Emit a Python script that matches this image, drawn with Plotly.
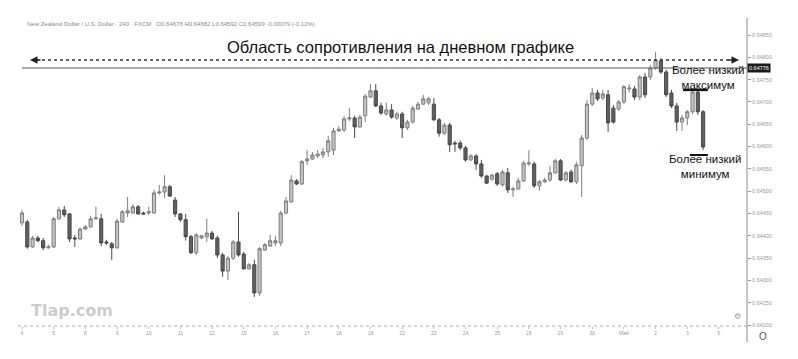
import plotly.graph_objects as go

# ---------------- data ----------------
day_labels = ["4", "5", "8", "9", "10", "11", "12", "15", "16", "17", "18", "19",
              "22", "23", "24", "25", "26", "29", "30", "Май", "2", "3", "6"]

open_ = [0.64429, 0.64431, 0.64375, 0.64395, 0.64389, 0.64373, 0.64375, 0.64438, 0.64458, 0.64449,
         0.64395, 0.64393, 0.64415, 0.64420, 0.64438, 0.64438, 0.64386, 0.64382, 0.64373, 0.64431,
         0.64451, 0.64451, 0.64465, 0.64451, 0.64451, 0.64451, 0.64496, 0.64498, 0.64510, 0.64480,
         0.64449, 0.64436, 0.64398, 0.64362, 0.64395, 0.64398, 0.64406, 0.64395, 0.64357, 0.64321,
         0.64350, 0.64386, 0.64359, 0.64326, 0.64335, 0.64272, 0.64368, 0.64377, 0.64384, 0.64384,
         0.64451, 0.64476, 0.64523, 0.64516, 0.64568, 0.64572, 0.64579, 0.64581, 0.64588, 0.64592,
         0.64635, 0.64637, 0.64662, 0.64664, 0.64644, 0.64669, 0.64711, 0.64725, 0.64691, 0.64673,
         0.64682, 0.64664, 0.64673, 0.64642, 0.64655, 0.64684, 0.64695, 0.64698, 0.64695, 0.64660,
         0.64630, 0.64648, 0.64608, 0.64608, 0.64597, 0.64570, 0.64579, 0.64561, 0.64534, 0.64527,
         0.64539, 0.64514, 0.64541, 0.64503, 0.64505, 0.64523, 0.64561, 0.64561, 0.64512, 0.64521,
         0.64525, 0.64541, 0.64568, 0.64525, 0.64543, 0.64521, 0.64557, 0.64619, 0.64695, 0.64720,
         0.64709, 0.64716, 0.64686, 0.64684, 0.64700, 0.64729, 0.64729, 0.64711, 0.64756, 0.64756,
         0.64776, 0.64792, 0.64767, 0.64720, 0.64691, 0.64655, 0.64664, 0.64678, 0.64722, 0.64678]

high = [0.64458, 0.64436, 0.64400, 0.64400, 0.64395, 0.64380, 0.64442, 0.64465, 0.64467, 0.64451,
        0.64402, 0.64418, 0.64424, 0.64445, 0.64465, 0.64449, 0.64391, 0.64386, 0.64438, 0.64458,
        0.64487, 0.64471, 0.64469, 0.64454, 0.64465, 0.64503, 0.64514, 0.64536, 0.64514, 0.64487,
        0.64451, 0.64449, 0.64402, 0.64406, 0.64402, 0.64438, 0.64411, 0.64400, 0.64362, 0.64355,
        0.64391, 0.64454, 0.64364, 0.64339, 0.64346, 0.64375, 0.64384, 0.64402, 0.64400, 0.64456,
        0.64487, 0.64536, 0.64527, 0.64570, 0.64592, 0.64588, 0.64592, 0.64597, 0.64624, 0.64642,
        0.64646, 0.64669, 0.64686, 0.64669, 0.64671, 0.64718, 0.64740, 0.64740, 0.64698, 0.64698,
        0.64695, 0.64678, 0.64678, 0.64660, 0.64691, 0.64700, 0.64716, 0.64711, 0.64709, 0.64664,
        0.64653, 0.64653, 0.64613, 0.64613, 0.64601, 0.64583, 0.64583, 0.64570, 0.64536, 0.64539,
        0.64543, 0.64548, 0.64552, 0.64510, 0.64530, 0.64568, 0.64592, 0.64566, 0.64525, 0.64530,
        0.64557, 0.64572, 0.64572, 0.64545, 0.64548, 0.64566, 0.64626, 0.64704, 0.64731, 0.64727,
        0.64727, 0.64727, 0.64693, 0.64704, 0.64738, 0.64740, 0.64736, 0.64760, 0.64765, 0.64783,
        0.64812, 0.64798, 0.64772, 0.64727, 0.64698, 0.64671, 0.64682, 0.64727, 0.64727, 0.64682]

low = [0.64422, 0.64371, 0.64373, 0.64386, 0.64368, 0.64371, 0.64373, 0.64436, 0.64442, 0.64386,
       0.64375, 0.64391, 0.64413, 0.64418, 0.64436, 0.64377, 0.64380, 0.64346, 0.64371, 0.64429,
       0.64442, 0.64449, 0.64447, 0.64447, 0.64447, 0.64449, 0.64492, 0.64485, 0.64487, 0.64442,
       0.64431, 0.64389, 0.64359, 0.64357, 0.64393, 0.64386, 0.64391, 0.64350, 0.64308, 0.64301,
       0.64346, 0.64353, 0.64324, 0.64324, 0.64263, 0.64265, 0.64366, 0.64375, 0.64377, 0.64377,
       0.64449, 0.64474, 0.64514, 0.64514, 0.64559, 0.64570, 0.64574, 0.64574, 0.64577, 0.64581,
       0.64633, 0.64633, 0.64657, 0.64619, 0.64642, 0.64655, 0.64709, 0.64689, 0.64671, 0.64669,
       0.64662, 0.64660, 0.64619, 0.64637, 0.64651, 0.64682, 0.64693, 0.64693, 0.64657, 0.64622,
       0.64626, 0.64588, 0.64588, 0.64592, 0.64566, 0.64568, 0.64548, 0.64530, 0.64516, 0.64523,
       0.64512, 0.64510, 0.64496, 0.64487, 0.64503, 0.64521, 0.64557, 0.64507, 0.64501, 0.64518,
       0.64521, 0.64539, 0.64523, 0.64521, 0.64518, 0.64516, 0.64487, 0.64615, 0.64691, 0.64702,
       0.64704, 0.64633, 0.64651, 0.64680, 0.64695, 0.64722, 0.64704, 0.64704, 0.64709, 0.64749,
       0.64772, 0.64763, 0.64711, 0.64686, 0.64635, 0.64635, 0.64648, 0.64673, 0.64671, 0.64592]

close = [0.64451, 0.64375, 0.64395, 0.64389, 0.64373, 0.64375, 0.64438, 0.64458, 0.64447, 0.64393,
         0.64393, 0.64415, 0.64420, 0.64438, 0.64440, 0.64384, 0.64384, 0.64373, 0.64433, 0.64454,
         0.64456, 0.64465, 0.64449, 0.64449, 0.64454, 0.64496, 0.64498, 0.64510, 0.64489, 0.64449,
         0.64436, 0.64398, 0.64362, 0.64402, 0.64400, 0.64406, 0.64393, 0.64357, 0.64321, 0.64350,
         0.64386, 0.64357, 0.64326, 0.64335, 0.64272, 0.64371, 0.64380, 0.64389, 0.64389, 0.64451,
         0.64478, 0.64525, 0.64516, 0.64566, 0.64572, 0.64581, 0.64583, 0.64588, 0.64613, 0.64635,
         0.64639, 0.64662, 0.64664, 0.64644, 0.64666, 0.64713, 0.64725, 0.64691, 0.64675, 0.64682,
         0.64666, 0.64673, 0.64642, 0.64655, 0.64686, 0.64695, 0.64707, 0.64707, 0.64660, 0.64630,
         0.64648, 0.64604, 0.64606, 0.64597, 0.64570, 0.64579, 0.64561, 0.64534, 0.64518, 0.64536,
         0.64516, 0.64543, 0.64503, 0.64505, 0.64523, 0.64563, 0.64563, 0.64512, 0.64521, 0.64525,
         0.64541, 0.64568, 0.64525, 0.64541, 0.64521, 0.64559, 0.64619, 0.64695, 0.64720, 0.64707,
         0.64718, 0.64653, 0.64655, 0.64700, 0.64734, 0.64731, 0.64711, 0.64756, 0.64716, 0.64776,
         0.64794, 0.64767, 0.64716, 0.64691, 0.64655, 0.64664, 0.64678, 0.64722, 0.64678, 0.64599]

price_ticks = [0.64200, 0.64250, 0.64300, 0.64350, 0.64400, 0.64450, 0.64500,
               0.64550, 0.64600, 0.64650, 0.64700, 0.64750, 0.64800, 0.64850]

resistance_level = 0.64776
lower_high_level = 0.64727
lower_low_level = 0.64581
lower_high_span = [125.2, 129.9]
lower_low_span = [126.5, 129.9]

# ---------------- figure ----------------
W, H = 798, 359
ML, MR, MT, MB = 0, 51, 0, 33
PW, PH = W - ML - MR, H - MT - MB


def px(x):
    return (x - ML) / PW


def py(y):
    return 1 - (y - MT) / PH


idx = list(range(len(open_)))

fig = go.Figure()
fig.add_trace(go.Candlestick(
    x=idx, open=open_, high=high, low=low, close=close,
    increasing=dict(fillcolor="#c4c4c4", line=dict(color="#7e7e7e", width=1)),
    decreasing=dict(fillcolor="#616161", line=dict(color="#474747", width=1)),
    whiskerwidth=0, showlegend=False, hoverinfo="skip",
))

o, hh, ll, c = open_[-1], high[-1], low[-1], close[-1]
header = (f"New Zealand Dollar / U.S. Dollar · 240 · FXCM   O{o:.5f} H{hh:.5f} "
          f"L{ll:.5f} C{c:.5f} {c - o:+.5f} ({(c - o) / o * 100:+.2f}%)")

TXT = "Liberation Sans, Arial"
annotations = [
    dict(x=px(25), y=py(24), text=header, showarrow=False, xanchor="left",
         font=dict(size=6, color="#8a8a8a", family=TXT)),
    dict(x=px(400), y=py(47), text="Область сопротивления на дневном графике", showarrow=False,
         font=dict(size=16.5, color="#111", family=TXT)),
    # arrowheads of dotted line
    dict(x=px(30), y=py(60), ax=12, ay=0, text="", showarrow=True, arrowhead=2,
         arrowsize=1, arrowwidth=1.5, arrowcolor="#222"),
    dict(x=px(739), y=py(60), ax=-12, ay=0, text="", showarrow=True, arrowhead=2,
         arrowsize=1, arrowwidth=1.5, arrowcolor="#222"),
    dict(x=px(708), y=py(77.5), text="Более низкий<br>максимум", showarrow=False,
         font=dict(size=11.5, color="#111", family=TXT)),
    dict(x=px(705), y=py(166.5), text="Более низкий<br>минимум", showarrow=False,
         font=dict(size=11.5, color="#111", family=TXT)),
    dict(x=px(29), y=py(310), text="<b>Tlap.com</b>", showarrow=False, xanchor="left",
         font=dict(size=16, color="#cccccc", family="DejaVu Sans")),
    dict(x=px(737), y=py(316), text="⚙", showarrow=False,
         font=dict(size=8, color="#999", family="DejaVu Sans")),
    dict(x=px(763), y=py(336), text="O", showarrow=False,
         font=dict(size=10, color="#555", family="Liberation Sans")),
    dict(x=1, y=resistance_level, yref="y", text=f"{resistance_level:.5f}", showarrow=False,
         xanchor="left", bgcolor="#1a1a1a", borderpad=1,
         font=dict(size=5.5, color="#fff", family="Liberation Sans")),
]
for a in annotations:
    a.setdefault("xref", "paper")
    a.setdefault("yref", "paper")
    a.setdefault("xanchor", "center")
    a.setdefault("yanchor", "middle")

shapes = [
    # dotted resistance-zone line
    dict(type="line", xref="paper", yref="paper", x0=px(36), x1=px(733), y0=py(60), y1=py(60),
         line=dict(color="#333", width=1.5, dash="dot")),
    # resistance horizontal line
    dict(type="line", xref="paper", yref="y", x0=px(22), x1=1, y0=resistance_level,
         y1=resistance_level, line=dict(color="#5a5a5a", width=1)),
    # lower high / lower low markers
    dict(type="line", xref="x", yref="y", x0=lower_high_span[0], x1=lower_high_span[1],
         y0=lower_high_level, y1=lower_high_level, line=dict(color="#111", width=2.5)),
    dict(type="line", xref="x", yref="y", x0=lower_low_span[0], x1=lower_low_span[1],
         y0=lower_low_level, y1=lower_low_level, line=dict(color="#111", width=2)),
    # bottom dotted axis line
    dict(type="line", xref="paper", yref="paper", x0=px(18), x1=1, y0=0, y1=0,
         line=dict(color="#aaaaaa", width=1, dash="dot")),
    # right axis line
    dict(type="line", xref="paper", yref="paper", x0=1, x1=1, y0=py(342), y1=py(18),
         line=dict(color="#8a8a8a", width=1)),
]

# y range chosen so that 0.64850 sits at 35 px and 0.64200 at 325 px
per_px = (0.64850 - 0.64200) / (325 - 35)
y_top = 0.64850 + (35 - MT) * per_px
y_bot = 0.64850 - (MT + PH - 35) * per_px

step = 5.28
x_lo = -(22 - ML) / step
x_hi = (ML + PW - 22) / step

fig.update_layout(
    width=W, height=H,
    margin=dict(l=ML, r=MR, t=MT, b=MB),
    paper_bgcolor="white", plot_bgcolor="white",
    showlegend=False, boxgap=0.15,
    annotations=annotations, shapes=shapes,
    xaxis=dict(range=[x_lo, x_hi], showgrid=False, zeroline=False, showline=False,
               rangeslider=dict(visible=False),
               tickvals=list(range(0, 6 * len(day_labels), 6)), ticktext=day_labels,
               ticks="outside", ticklen=2, tickcolor="#bbbbbb",
               tickfont=dict(size=5, color="#999", family="Liberation Sans")),
    yaxis=dict(side="right", range=[y_bot, y_top], showgrid=False, zeroline=False,
               showline=False, tickvals=price_ticks, tickformat=".5f",
               ticks="outside", ticklen=3, tickcolor="#999",
               tickfont=dict(size=5.5, color="#999", family="Liberation Sans")),
)

fig.write_html("out.html")
